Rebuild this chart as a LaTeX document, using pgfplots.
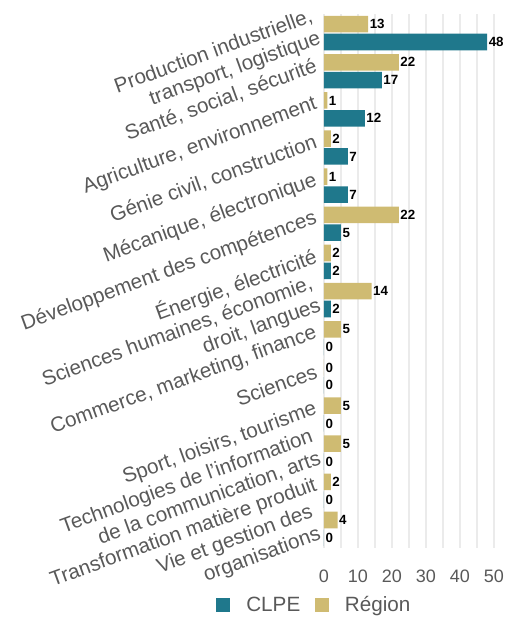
\documentclass[border=0pt]{standalone}
\usepackage{pgfplots}
\pgfplotsset{compat=1.18}
\usepackage{pgfplotstable}
\usepackage{fontspec}
\setmainfont{Liberation Sans}

\definecolor{clpe}{HTML}{1F788C}
\definecolor{region}{HTML}{CFBB72}
\definecolor{txt}{HTML}{595959}
\definecolor{gridc}{HTML}{EBEBEB}

% y = position from bottom (13 = first category at the top)
\pgfplotstableread{
y  region clpe
13 13 48
12 22 17
11 1  12
10 2  7
9  1  7
8  22 5
7  2  2
6  14 2
5  5  0
4  0  0
3  5  0
2  5  0
1  2  0
0  4  0
}\data

\begin{document}
\begin{tikzpicture}
\begin{axis}[
    at={(0,0)}, anchor=south west,
    width=127.5pt, height=400.5pt, scale only axis,
    xbar, bar width=12.4pt,
    xmin=0, xmax=50, ymin=-0.5, ymax=13.5,
    axis line style={draw=none},
    xtick={0,10,...,50}, minor xtick={5,15,...,45},
    xmajorgrids, xminorgrids,
    major grid style={gridc, line width=1.5pt},
    minor grid style={gridc, line width=1.5pt},
    major tick length=0pt, minor tick length=0pt,
    ytick={0,...,13},
    yticklabels={
        {Vie et gestion des\\organisations},
        {Transformation matière produit},
        {Technologies de l'information\\de la communication, arts},
        {Sport, loisirs, tourisme},
        {Sciences},
        {Commerce, marketing, finance},
        {Sciences humaines, économie,\\droit, langues},
        {Énergie, électricité},
        {Développement des compétences},
        {Mécanique, électronique},
        {Génie civil, construction},
        {Agriculture, environnement},
        {Santé, social, sécurité},
        {Production industrielle,\\transport, logistique}
    },
    yticklabel style={rotate=20, anchor=east, align=right, inner sep=0pt,
        xshift=-4pt, yshift=6pt, text=txt, font=\fontsize{15.5}{17.5}\selectfont},
    xticklabel style={anchor=north, inner sep=0pt, yshift=-16.5pt,
        text=txt, font=\fontsize{13.5}{16}\selectfont},
    /pgf/number format/assume math mode=true,
    nodes near coords,
    nodes near coords style={font=\fontsize{10}{12}\selectfont\bfseries,
        text=black, inner sep=1pt, anchor=west},
    legend columns=2,
    legend style={at={(-0.635,-0.1067)}, anchor=west, draw=none, fill=none,
        font=\fontsize{15.5}{18}\selectfont, text=txt, inner sep=0pt,
        /tikz/every odd column/.style={column sep=10pt},
        /tikz/every even column/.style={column sep=9pt}},
    legend image code/.code={\fill[#1] (0pt,-5.25pt) rectangle (10.5pt,5.25pt);},
]
\addplot[fill=clpe, draw=none, bar shift=-6.7pt] table[x=clpe, y=y] {\data};
\addlegendentry{CLPE}
\addplot[fill=region, draw=none, bar shift=6.7pt] table[x=region, y=y] {\data};
\addlegendentry{Région}
\end{axis}
\path (-243pt,-54.75pt) rectangle (138pt,411pt);
\end{tikzpicture}
\end{document}
